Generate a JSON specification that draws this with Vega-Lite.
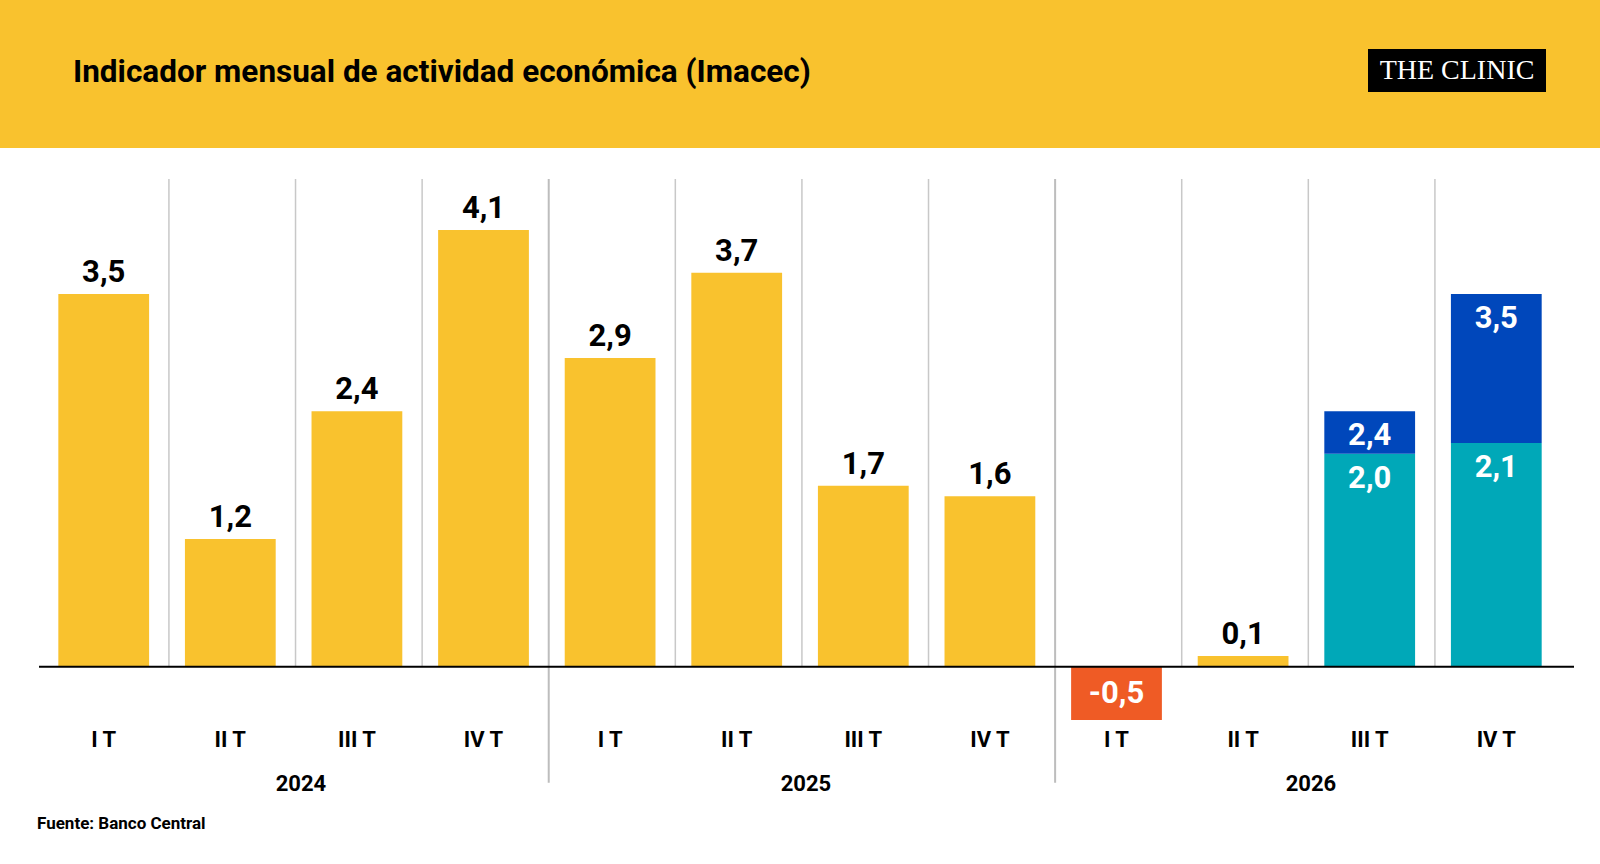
{
  "$schema": "https://vega.github.io/schema/vega-lite/v6.json",
  "background": "white",
  "padding": 0,
  "spacing": 30,
  "config": {
    "view": {"stroke": null},
    "font": "Roboto",
    "locale": {
      "number": {"decimal": ",", "thousands": ".", "grouping": [3], "currency": ["$", ""], "minus": "-"}
    }
  },
  "datasets": {
    "imacec": [
      {"periodo": "2024-I T", "serie": "Efectivo", "valor": 3.5, "base": 0},
      {"periodo": "2024-II T", "serie": "Efectivo", "valor": 1.2, "base": 0},
      {"periodo": "2024-III T", "serie": "Efectivo", "valor": 2.4, "base": 0},
      {"periodo": "2024-IV T", "serie": "Efectivo", "valor": 4.1, "base": 0},
      {"periodo": "2025-I T", "serie": "Efectivo", "valor": 2.9, "base": 0},
      {"periodo": "2025-II T", "serie": "Efectivo", "valor": 3.7, "base": 0},
      {"periodo": "2025-III T", "serie": "Efectivo", "valor": 1.7, "base": 0},
      {"periodo": "2025-IV T", "serie": "Efectivo", "valor": 1.6, "base": 0},
      {"periodo": "2026-I T", "serie": "Efectivo", "valor": -0.5, "base": 0},
      {"periodo": "2026-II T", "serie": "Efectivo", "valor": 0.1, "base": 0},
      {"periodo": "2026-III T", "serie": "Proyección mínima", "valor": 2.0, "base": 0},
      {"periodo": "2026-III T", "serie": "Proyección máxima", "valor": 2.4, "base": 2.0},
      {"periodo": "2026-IV T", "serie": "Proyección mínima", "valor": 2.1, "base": 0},
      {"periodo": "2026-IV T", "serie": "Proyección máxima", "valor": 3.5, "base": 2.1}
    ],
    "divisiones": [
      {"periodo": "2024-II T", "tipo": "trimestre"},
      {"periodo": "2024-III T", "tipo": "trimestre"},
      {"periodo": "2024-IV T", "tipo": "trimestre"},
      {"periodo": "2025-I T", "tipo": "anio"},
      {"periodo": "2025-II T", "tipo": "trimestre"},
      {"periodo": "2025-III T", "tipo": "trimestre"},
      {"periodo": "2025-IV T", "tipo": "trimestre"},
      {"periodo": "2026-I T", "tipo": "anio"},
      {"periodo": "2026-II T", "tipo": "trimestre"},
      {"periodo": "2026-III T", "tipo": "trimestre"},
      {"periodo": "2026-IV T", "tipo": "trimestre"}
    ],
    "eje": [{"desde": "2024-I T", "hasta": "2026-IV T", "nivel": 0}],
    "anios": [{"anio": "2024"}, {"anio": "2025"}, {"anio": "2026"}],
    "marca": [{"texto": "THE CLINIC"}]
  },
  "vconcat": [
    {
      "width": 1600,
      "height": 148,
      "view": {"fill": "#F9C22E", "stroke": null},
      "title": {
        "text": "Indicador mensual de actividad económica (Imacec)",
        "anchor": "start",
        "frame": "group",
        "dx": 73,
        "offset": -88,
        "fontSize": 31.5,
        "fontWeight": "bold",
        "font": "Roboto",
        "color": "#000000"
      },
      "data": {"name": "marca"},
      "layer": [
        {
          "mark": {"type": "rect", "color": "#000000"},
          "encoding": {
            "x": {"value": 1368},
            "x2": {"value": 1546},
            "y": {"value": 49},
            "y2": {"value": 92}
          }
        },
        {
          "mark": {
            "type": "text",
            "color": "#FFFFFF",
            "font": "Liberation Serif",
            "fontSize": 28,
            "align": "center",
            "baseline": "middle"
          },
          "encoding": {
            "text": {"field": "texto"},
            "x": {"value": 1457},
            "y": {"value": 71}
          }
        }
      ]
    },
    {
      "width": 1574,
      "height": 541,
      "title": {
        "text": "Fuente: Banco Central",
        "orient": "bottom",
        "anchor": "start",
        "frame": "group",
        "dx": 37,
        "offset": 22,
        "fontSize": 17,
        "fontWeight": "bold",
        "font": "Roboto",
        "color": "#000000"
      },
      "layer": [
        {
          "data": {"name": "divisiones"},
          "transform": [{"filter": "datum.tipo === 'trimestre'"}],
          "mark": {"type": "rule", "color": "#C8C8C8", "strokeWidth": 1.5, "xOffset": -16},
          "encoding": {
            "x": {
              "field": "periodo",
              "type": "ordinal",
              "bandPosition": 0,
              "scale": {
                "type": "band",
                "domain": ["2024-I T", "2024-II T", "2024-III T", "2024-IV T", "2025-I T", "2025-II T", "2025-III T", "2025-IV T", "2026-I T", "2026-II T", "2026-III T", "2026-IV T"],
                "paddingInner": 0.283, "paddingOuter": 0.358, "align": 0.6435
              },
              "axis": null
            },
            "y": {"datum": 0, "type": "quantitative"},
            "y2": {"datum": 4.58}
          }
        },
        {
          "data": {"name": "divisiones"},
          "transform": [{"filter": "datum.tipo === 'anio'"}],
          "mark": {"type": "rule", "color": "#BDBDBD", "strokeWidth": 2, "xOffset": -16},
          "encoding": {
            "x": {
              "field": "periodo",
              "type": "ordinal",
              "bandPosition": 0,
              "scale": {
                "type": "band",
                "domain": ["2024-I T", "2024-II T", "2024-III T", "2024-IV T", "2025-I T", "2025-II T", "2025-III T", "2025-IV T", "2026-I T", "2026-II T", "2026-III T", "2026-IV T"],
                "paddingInner": 0.283, "paddingOuter": 0.358, "align": 0.6435
              },
              "axis": null
            },
            "y": {"datum": 4.58, "type": "quantitative"},
            "y2": {"datum": -1.09}
          }
        },
        {
          "data": {"name": "imacec"},
          "mark": {"type": "bar"},
          "encoding": {
            "x": {
              "field": "periodo",
              "type": "ordinal",
              "scale": {
                "type": "band",
                "domain": ["2024-I T", "2024-II T", "2024-III T", "2024-IV T", "2025-I T", "2025-II T", "2025-III T", "2025-IV T", "2026-I T", "2026-II T", "2026-III T", "2026-IV T"],
                "paddingInner": 0.283, "paddingOuter": 0.358, "align": 0.6435
              },
              "axis": {
                "title": null,
                "orient": "bottom",
                "domain": false,
                "ticks": false,
                "tickSize": 0,
                "grid": false,
                "labelAngle": 0,
                "labelPadding": 19,
                "labelBaseline": "middle",
                "labelFont": "Roboto",
                "labelFontSize": 22,
                "labelFontWeight": "bold",
                "labelColor": "#000000",
                "labelExpr": "split(datum.value, '-')[1]"
              }
            },
            "y": {
              "field": "valor",
              "type": "quantitative",
              "scale": {"domain": [-0.5, 4.58], "nice": false, "zero": false},
              "axis": {
                "title": null,
                "labels": false,
                "ticks": false,
                "domain": false,
                "grid": false
              }
            },
            "y2": {"field": "base"},
            "color": {
              "condition": {"test": "datum.valor < 0", "value": "#EF5B25"},
              "field": "serie",
              "type": "nominal",
              "scale": {
                "domain": ["Efectivo", "Proyección mínima", "Proyección máxima"],
                "range": ["#F9C22E", "#00A8B8", "#0047BB"]
              },
              "legend": null
            }
          }
        },
        {
          "data": {"name": "eje"},
          "mark": {"type": "rule", "color": "#000000", "strokeWidth": 2, "xOffset": -64.7, "x2Offset": 77.7},
          "encoding": {
            "x": {
              "field": "desde",
              "type": "ordinal",
              "scale": {
                "type": "band",
                "domain": ["2024-I T", "2024-II T", "2024-III T", "2024-IV T", "2025-I T", "2025-II T", "2025-III T", "2025-IV T", "2026-I T", "2026-II T", "2026-III T", "2026-IV T"],
                "paddingInner": 0.283, "paddingOuter": 0.358, "align": 0.6435
              },
              "axis": null
            },
            "x2": {"field": "hasta"},
            "y": {"field": "nivel", "type": "quantitative"}
          }
        },
        {
          "data": {"name": "imacec"},
          "transform": [{"filter": "datum.serie === 'Efectivo' && datum.valor >= 0"}],
          "mark": {"type": "text", "fontSize": 31, "fontWeight": "bold", "font": "Roboto", "color": "#000000", "baseline": "alphabetic", "dy": -12},
          "encoding": {
            "x": {
              "field": "periodo",
              "type": "ordinal",
              "scale": {
                "type": "band",
                "domain": ["2024-I T", "2024-II T", "2024-III T", "2024-IV T", "2025-I T", "2025-II T", "2025-III T", "2025-IV T", "2026-I T", "2026-II T", "2026-III T", "2026-IV T"],
                "paddingInner": 0.283, "paddingOuter": 0.358, "align": 0.6435
              },
              "axis": null
            },
            "y": {"field": "valor", "type": "quantitative"},
            "text": {"field": "valor", "type": "quantitative", "format": ".1f"}
          }
        },
        {
          "data": {"name": "imacec"},
          "transform": [{"filter": "datum.valor < 0"}],
          "mark": {"type": "text", "fontSize": 31, "fontWeight": "bold", "font": "Roboto", "color": "#FFFFFF", "baseline": "alphabetic", "dy": -17},
          "encoding": {
            "x": {
              "field": "periodo",
              "type": "ordinal",
              "scale": {
                "type": "band",
                "domain": ["2024-I T", "2024-II T", "2024-III T", "2024-IV T", "2025-I T", "2025-II T", "2025-III T", "2025-IV T", "2026-I T", "2026-II T", "2026-III T", "2026-IV T"],
                "paddingInner": 0.283, "paddingOuter": 0.358, "align": 0.6435
              },
              "axis": null
            },
            "y": {"field": "valor", "type": "quantitative"},
            "text": {"field": "valor", "type": "quantitative", "format": ".1f"}
          }
        },
        {
          "data": {"name": "imacec"},
          "transform": [{"filter": "datum.serie !== 'Efectivo'"}],
          "mark": {"type": "text", "fontSize": 31, "fontWeight": "bold", "font": "Roboto", "color": "#FFFFFF", "baseline": "alphabetic", "dy": 34},
          "encoding": {
            "x": {
              "field": "periodo",
              "type": "ordinal",
              "scale": {
                "type": "band",
                "domain": ["2024-I T", "2024-II T", "2024-III T", "2024-IV T", "2025-I T", "2025-II T", "2025-III T", "2025-IV T", "2026-I T", "2026-II T", "2026-III T", "2026-IV T"],
                "paddingInner": 0.283, "paddingOuter": 0.358, "align": 0.6435
              },
              "axis": null
            },
            "y": {"field": "valor", "type": "quantitative"},
            "text": {"field": "valor", "type": "quantitative", "format": ".1f"}
          }
        },
        {
          "data": {"name": "anios"},
          "mark": {"type": "tick", "opacity": 0},
          "encoding": {
            "x": {
              "field": "anio",
              "type": "ordinal",
              "scale": {"type": "band", "paddingInner": 0, "paddingOuter": 0.0584, "align": 0.822},
              "axis": {
                "title": null,
                "orient": "bottom",
                "domain": false,
                "ticks": false,
                "tickSize": 0,
                "grid": false,
                "labelAngle": 0,
                "labelPadding": 63,
                "labelBaseline": "middle",
                "labelFont": "Roboto",
                "labelFontSize": 22,
                "labelFontWeight": "bold",
                "labelColor": "#000000"
              }
            }
          }
        }
      ],
      "resolve": {"scale": {"x": "independent"}, "axis": {"x": "independent"}}
    }
  ]
}
